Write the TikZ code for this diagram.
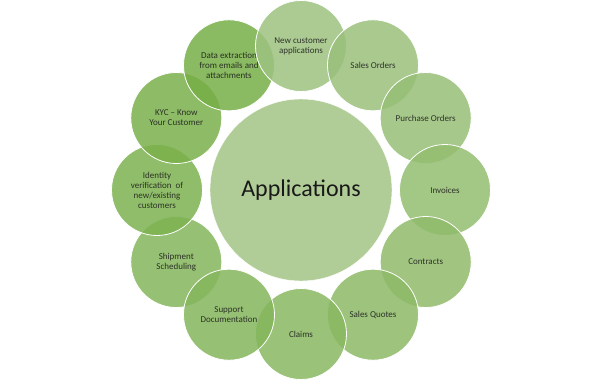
\documentclass[tikz,border=0pt]{standalone}
\usepackage{fontspec}
\setmainfont{Carlito}
\definecolor{hubC}{RGB}{177,205,151}
\definecolor{leafL}{RGB}{158,194,128}
\definecolor{leafD}{RGB}{118,174,70}
\definecolor{textC}{RGB}{25,25,25}

\begin{document}
\begin{tikzpicture}[
    leaf/.style={circle, draw=white, line width=0.8pt, fill opacity=0.85,
                 minimum size=91pt, inner sep=0pt, align=center,
                 font=\fontsize{9}{10}\selectfont, text=textC},
    hub/.style={circle, draw=white, fill=hubC, minimum size=182pt, inner sep=0pt,
                font=\fontsize{24}{28}\selectfont, text=textC}
  ]
    \useasboundingbox (-301pt,-191pt) rectangle (301pt,190pt);

    % Centre
    \node[hub] (apps) at (0,0) {Applications};

    % Ring, left side first
    \node[leaf, fill=leafD!64!leafL] (shipment) at (-150:144pt) {Shipment\\Scheduling};
    \node[leaf, fill=leafD!82!leafL] (identity) at (180:144pt)
      {Identity\\verification\ \ of\\new/existing\\customers};
    \node[leaf, fill=leafD!91!leafL] (kyc) at (150:144pt) {KYC – Know\\Your Customer};
    \node[leaf, fill=leafD] (dataext) at (120:144pt)
      {Data extraction\\from emails and\\attachments};

    % Ring, top and right side
    \node[leaf, fill=leafL] (newcust) at (90:144pt) {New customer\\applications};
    \node[leaf, fill=leafD!9!leafL] (salesord) at (60:144pt) {Sales Orders};
    \node[leaf, fill=leafD!18!leafL] (purchord) at (30:144pt) {Purchase Orders};
    \node[leaf, fill=leafD!27!leafL] (invoices) at (0:144pt) {Invoices};
    \node[leaf, fill=leafD!36!leafL] (contracts) at (-30:144pt) {Contracts};
    \node[leaf, fill=leafD!45!leafL] (salesquot) at (-60:144pt) {Sales Quotes};
    \node[leaf, fill=leafD!55!leafL] (claims) at (-90:144pt) {Claims};
    \node[leaf, fill=leafD!64!leafL] (support) at (-120:144pt) {Support\\Documentation};
  \end{tikzpicture}
\end{document}
